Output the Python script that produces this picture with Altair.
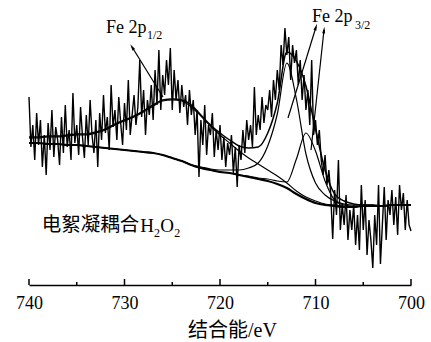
import altair as alt
import pandas as pd

# ---------------- data ----------------
# raw Fe 2p spectrum, 0.2 eV steps from 740.0 eV down to 700.0 eV (a.u.)
raw_intensity = [
    188, 138, 160, 125, 172,   140, 165, 118, 150, 110,
    162, 135, 175, 128, 158,   145, 120, 168, 132, 180,
    138, 155, 125, 192, 142,   160, 130, 178, 148, 127,
    170, 140, 185, 150, 132,   165, 118, 172, 145, 190,
    152, 168, 135, 200, 158,   175, 145, 188, 162, 140,
    182, 155, 205, 150, 170,   190, 160, 178, 225, 168,
    195, 150, 185, 170, 200,   165, 215, 180, 235, 175,
    210, 190, 225, 200, 237,   175, 215, 185, 205, 172,
    200, 178, 190, 160, 195,   170, 185, 150, 175, 108,
    165, 140, 180, 130, 160,   150, 172, 128, 155, 135,
    160, 125, 148, 118, 142,   130, 150, 112, 138, 98,
    140, 125, 155, 132, 165,   145, 160, 138, 198, 150,
    170, 155, 188, 162, 180,   175, 195, 168, 205, 185,
    215, 195, 240, 220, 257,   230, 248, 205, 240, 222,
    235, 200, 225, 185, 210,   175, 195, 160, 225, 150,
    165, 140, 155, 125, 110,   130, 100, 115, 90, 46,
    95, 70, 125, 55, 80,       60, 90, 45, 75, 55,
    80, 40, 70, 35, 100,       55, 85, 30, 65, 45,
    17, 70, 40, 100, 21,       60, 98, 45, 85, 70,
    95, 60, 88, 50, 100,       75, 92, 55, 85, 60,
    54,
]
raw_be = [round(740 - 0.2 * i, 1) for i in range(len(raw_intensity))]

# fitted curves, 1 eV steps from 740 to 700 eV
fit_be = list(range(740, 699, -1))
background = [142, 142, 141, 141, 140, 140, 139, 138, 137, 136,
              135, 134, 133, 132, 130, 127, 124, 120, 117, 115,
              113, 112, 110, 108, 106, 104, 101, 97, 91, 86,
              82, 80, 79, 78, 78, 79, 79, 79, 80, 80, 80]
envelope = [148, 148, 149, 149, 150, 151, 151, 153, 156, 161,
            165, 169, 174, 180, 185, 186, 185, 180, 170, 160,
            152, 145, 139, 137, 138, 152, 182, 233, 224, 199,
            156, 115, 91, 84, 81, 80, 80, 79, 80, 80, 80]
fe2p12_peak = [147, 147, 148, 148, 149, 150, 150, 152, 155, 160,
               164, 168, 173, 179, 184, 185, 184, 178, 169, 159,
               150, 142, 134, 127, 121, 115, 109, 102, 94, 88,
               84, 81, 80, 79, 78, 79, 79, 79, 80, 80, 80]
fe2p32_peak_a = [142, 142, 141, 141, 140, 140, 139, 138, 137, 136,
                 135, 134, 133, 132, 130, 127, 124, 120, 118, 116,
                 115, 115, 115, 117, 122, 139, 171, 222, 186, 131,
                 102, 90, 84, 81, 80, 80, 80, 79, 80, 80, 80]
fe2p32_peak_b = [142, 142, 141, 141, 140, 140, 139, 138, 137, 136,
                 135, 134, 133, 132, 130, 127, 124, 120, 117, 115,
                 113, 112, 110, 109, 107, 106, 104, 103, 126, 152,
                 134, 104, 85, 80, 79, 79, 79, 79, 80, 80, 80]

major_ticks = [740, 730, 720, 710, 700]
minor_ticks = [735, 725, 715, 705]

label_texts = ["Fe 2p", "1/2", "Fe 2p", "3/2",
               "电絮凝耦合", "H", "2", "O", "2"]
axis_title = "结合能/eV"

# ---------------- layout / style ----------------
FONT = "Liberation Serif, Noto Sans CJK SC"
label_x = [731.94, 727.64, 710.37, 705.86, 738.67, 728.35, 726.90, 726.25, 724.80]
label_y = [252, 246, 263, 256, 54, 53, 48, 53, 48]
label_size = [18, 12, 18, 12, 19.5, 19, 12, 19, 12]

arrow_tail_x = [725.97, 712.88, 710.47]
arrow_tail_y = [188, 167, 135]
arrow_head_x = [729.21, 709.95, 709.11]
arrow_head_y = [238, 258, 255]
arrow_angle = [328, 18, 6]

raw_df = pd.DataFrame({"BE": raw_be, "v": raw_intensity})
fit_df = pd.DataFrame({
    "BE": fit_be, "bg": background, "env": envelope,
    "p1": fe2p12_peak, "p2a": fe2p32_peak_a, "p2b": fe2p32_peak_b,
})
text_df = pd.DataFrame({"t": label_texts, "BE": label_x, "v": label_y, "s": label_size})
arrow_df = pd.DataFrame({"BE": arrow_tail_x, "v": arrow_tail_y,
                         "BE2": arrow_head_x, "v2": arrow_head_y})
head_df = pd.DataFrame({"BE": arrow_head_x, "v": arrow_head_y, "ang": arrow_angle})
major_df = pd.DataFrame({"BE": major_ticks})
minor_df = pd.DataFrame({"BE": minor_ticks})

xscale = alt.Scale(domain=[700, 740], reverse=True, nice=False, zero=False)
yscale = alt.Scale(domain=[0, 285], nice=False, zero=False)
x_axis = alt.Axis(
    values=major_ticks, ticks=False, grid=False, format="d",
    domainColor="black", domainWidth=1.5,
    labelFont=FONT, labelFontSize=18, labelColor="black", labelPadding=9,
    labelFlush=False,
    title=axis_title, titleFont=FONT, titleFontSize=20, titleFontWeight="normal",
    titleColor="black", titleX=203, titleY=51, titleBaseline="alphabetic",
    titleAlign="center",
)
x_enc = alt.X("BE:Q", scale=xscale, axis=x_axis)


def y_of(field):
    return alt.Y(field, scale=yscale, axis=None)


raw_line = alt.Chart(raw_df).mark_line(color="black", strokeWidth=1.4).encode(x=x_enc, y=y_of("v:Q"))

bg_line = alt.Chart(fit_df).mark_line(color="black", strokeWidth=2.2, interpolate="monotone").encode(
    x=x_enc, y=y_of("bg:Q"))
env_line = alt.Chart(fit_df).mark_line(color="black", strokeWidth=1.5, interpolate="monotone").encode(
    x=x_enc, y=y_of("env:Q"))
comp_lines = alt.Chart(fit_df).transform_fold(["p1", "p2a", "p2b"], as_=["k", "val"]).mark_line(
    color="black", strokeWidth=1.2, interpolate="monotone").encode(
    x=x_enc, y=y_of("val:Q"), detail="k:N")

major = alt.Chart(major_df).mark_rule(color="black", strokeWidth=1.5).encode(
    x=x_enc, y=alt.value(285), y2=alt.value(279))
minor = alt.Chart(minor_df).mark_rule(color="black", strokeWidth=1.5).encode(
    x=x_enc, y=alt.value(285), y2=alt.value(282))

arrows = alt.Chart(arrow_df).mark_rule(color="black", strokeWidth=1.2).encode(
    x=x_enc, y=y_of("v:Q"), x2="BE2:Q", y2="v2:Q")
heads = alt.Chart(head_df).mark_point(
    shape="M0,-1L0.45,1L-0.45,1Z", filled=True, color="black", opacity=1, size=45).encode(
    x=x_enc, y=y_of("v:Q"), angle=alt.Angle("ang:Q", scale=None))

texts = alt.Chart(text_df).mark_text(align="left", baseline="alphabetic", font=FONT, color="black").encode(
    x=x_enc, y=y_of("v:Q"), text="t:N", size=alt.Size("s:Q", scale=None))

chart = alt.layer(raw_line, bg_line, comp_lines, env_line, major, minor, arrows, heads, texts).properties(
    width=382, height=285,
    padding={"left": 29, "top": 0, "right": 20, "bottom": 57},
    autosize=alt.AutoSizeParams(type="none"),
    background="white",
).configure_view(stroke=None)

chart.save("out.html", embed_options={"renderer": "svg", "actions": False})
